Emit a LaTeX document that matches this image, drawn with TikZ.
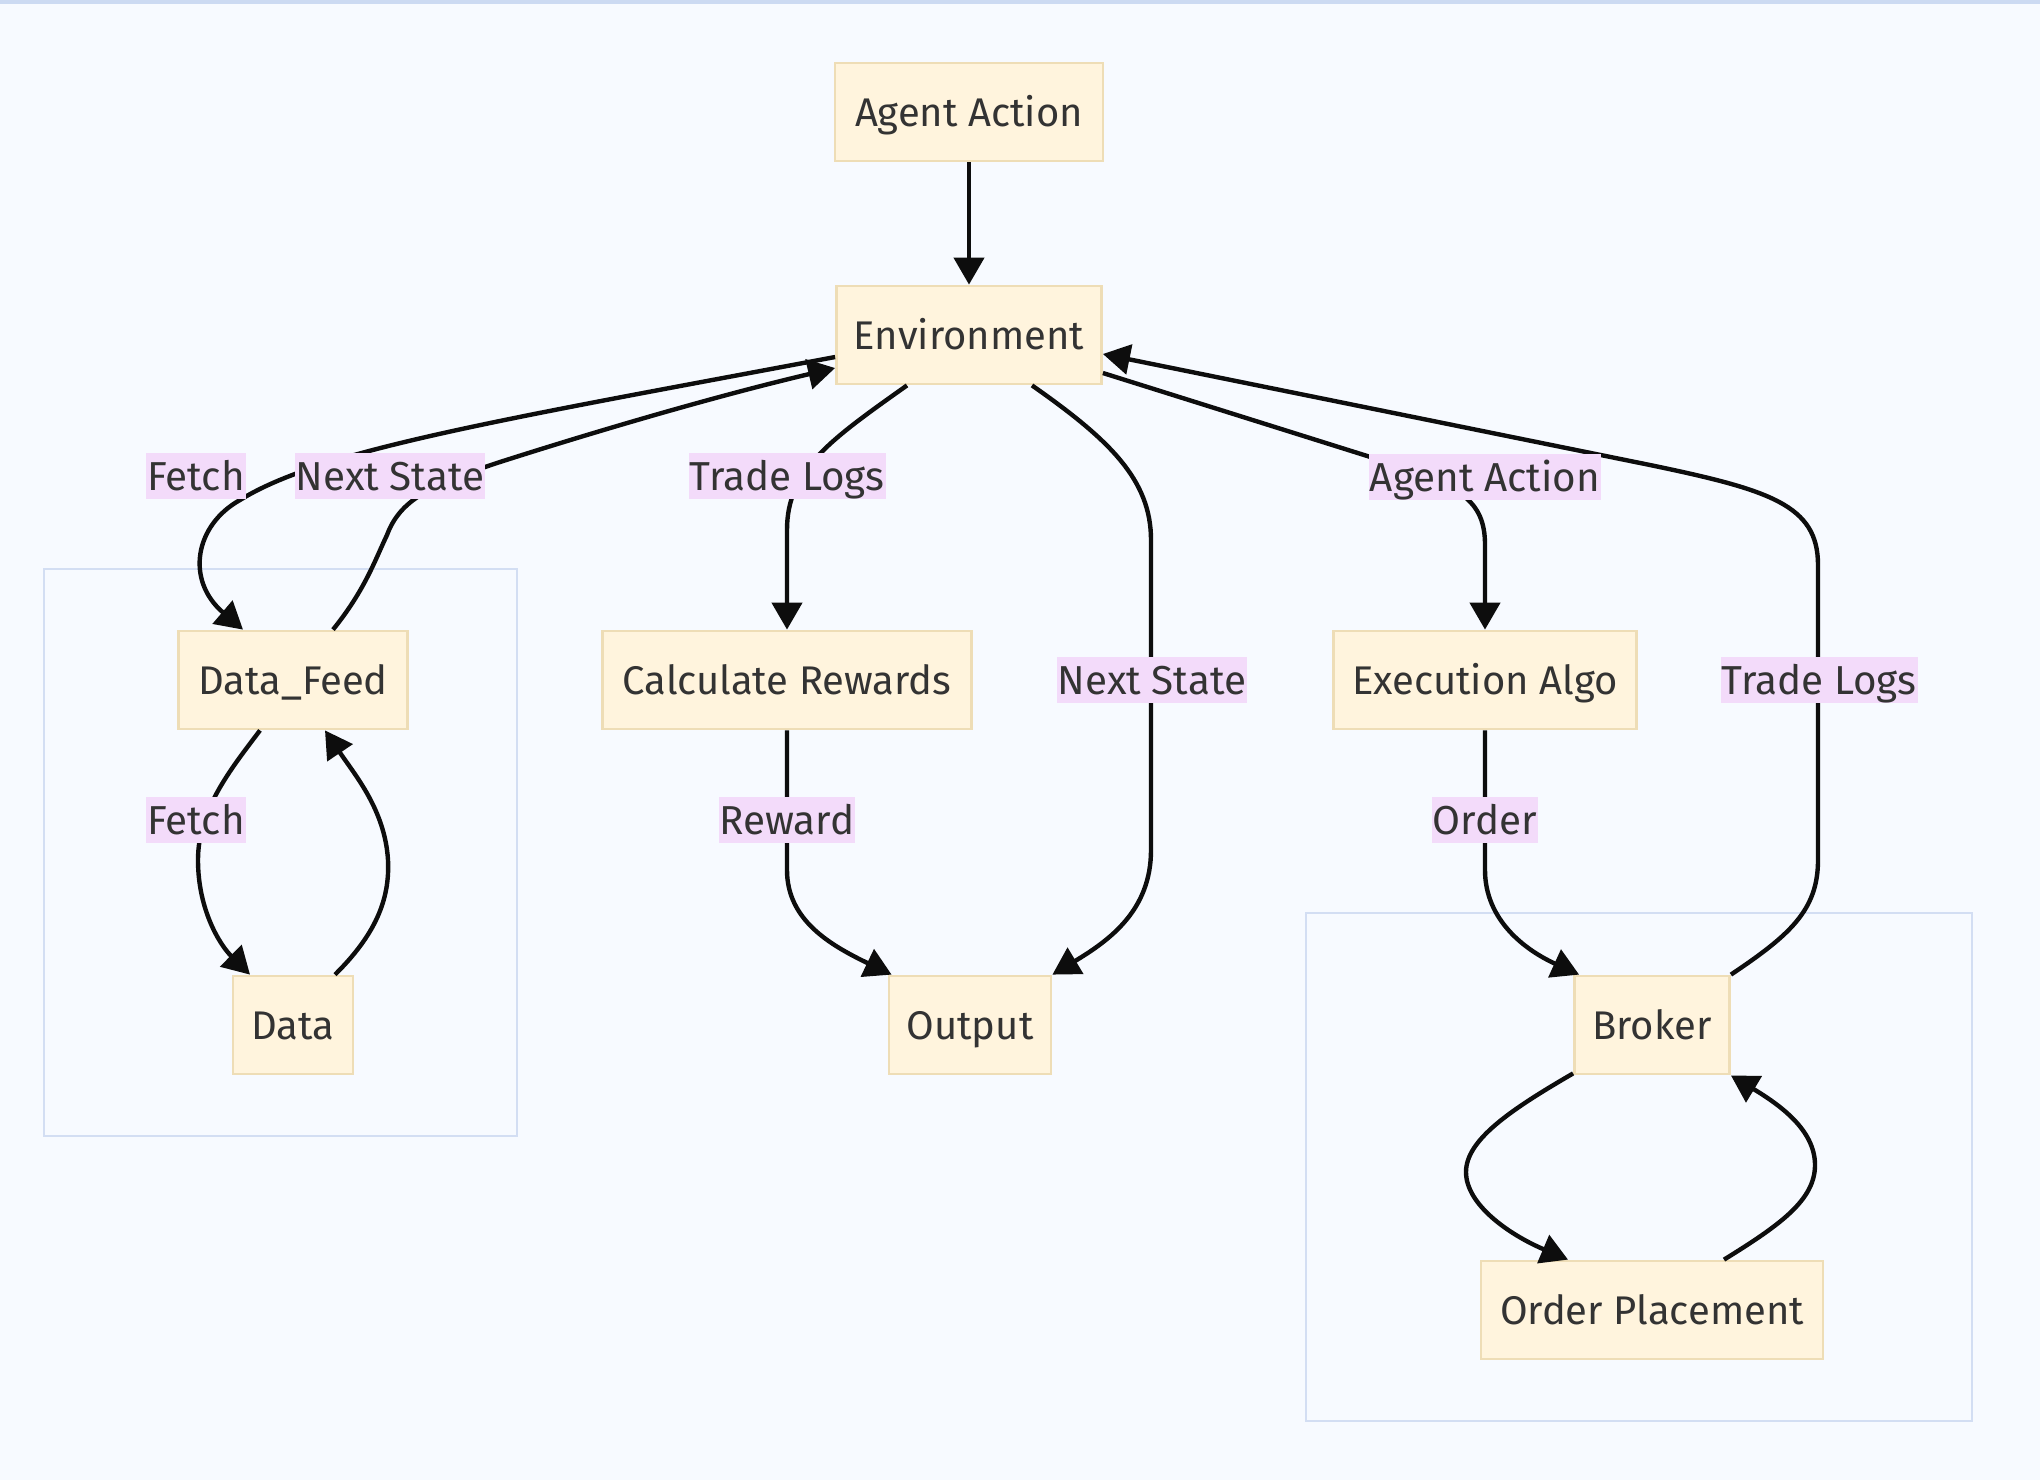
\documentclass[tikz,border=0pt]{standalone}
\usepackage{fontspec}
\setmainfont{Fira Sans}
\usetikzlibrary{arrows.meta,calc}
\definecolor{bgc}{HTML}{F7FAFF}
\definecolor{topline}{HTML}{CCDAF2}
\definecolor{framec}{HTML}{D3DEF3}
\definecolor{nodefill}{HTML}{FFF4DD}
\definecolor{nodeedge}{HTML}{EEDDB6}
\definecolor{lblfill}{HTML}{F3DBFA}
\definecolor{txt}{HTML}{333333}
\definecolor{edgec}{HTML}{0D0D0D}
\begin{document}
\begin{tikzpicture}[x=0.5pt,y=-0.5pt,
  box/.style={rectangle, draw=nodeedge, fill=nodefill, line width=1.4pt, text=txt,
    font=\fontsize{20}{24}\selectfont, inner sep=0pt, minimum height=49pt,
    text height=14pt, text depth=0pt},
  lbl/.style={rectangle, fill=lblfill, text=txt, font=\fontsize{20.2}{24}\selectfont,
    inner xsep=0.5pt, inner ysep=0pt, minimum height=23pt, text height=14pt, text depth=0pt},
  conn/.style={draw=edgec, line width=2.2pt, -{Triangle[length=13.5pt,width=15pt]}},
  cluster/.style={draw=framec, fill=bgc, line width=1.4pt}
]
\fill[bgc] (0,0) rectangle (2040,1480);
\useasboundingbox (0,0) rectangle (2040,1480);
\fill[topline] (0,0) rectangle (2040,4);

% clusters
\draw[cluster] (44,569) rectangle (517,1136);
\draw[cluster] (1306,913) rectangle (1972,1421);

% nodes
\node[box, minimum width=134pt] (aa) at (969,112) {Agent Action};
\node[box, minimum width=132.5pt] (env) at (969,335) {Environment};
\node[box, minimum width=114.5pt] (df) at (293,680) {Data\_Feed};
\node[box, minimum width=184.5pt] (cr) at (787,680) {Calculate Rewards};
\node[box, minimum width=151.5pt] (ea) at (1485,680) {Execution Algo};
\node[box, minimum width=60pt] (data) at (293,1025) {Data};
\node[box, minimum width=81pt] (out) at (970,1025) {Output};
\node[box, minimum width=77.5pt] (br) at (1652,1025) {Broker};
\node[box, minimum width=171pt] (op) at (1652,1310) {Order Placement};

% edges
\draw[conn] (aa) -- (env);
\draw[conn] ([yshift=-11pt]env.west) .. controls (500,420) and (320,450) .. (240,500)
  .. controls (195,525) and (185,580) .. ([xshift=-25pt]df.north);
\draw[conn] ([xshift=20pt]df.north) .. controls (365,590) and (375,560) .. (387,535)
  .. controls (400,500) and (430,485) .. (500,462)
  .. controls (600,430) and (720,395) .. ([yshift=-16.5pt]env.west);
\draw[conn] ([xshift=-31pt]env.south) .. controls (830,440) and (787,470) .. (787,530) -- (cr);
\draw[conn] ([xshift=31.5pt]env.south) .. controls (1110,440) and (1151,480) .. (1151,540)
  -- (1151,850) .. controls (1151,910) and (1110,940) .. (out.north east);
\draw[conn] ([yshift=-19pt]env.east) -- (1380,460) .. controls (1460,485) and (1485,500) .. (1485,545) -- (ea);
\draw[conn] (br.north east) .. controls (1790,935) and (1818,910) .. (1818,860)
  -- (1818,565) .. controls (1818,505) and (1770,490) .. (1650,465) -- ([yshift=-9.5pt]env.east);
\draw[conn] ([xshift=-16.5pt]df.south) .. controls (230,770) and (198,810) .. (198,860)
  .. controls (198,910) and (220,945) .. ([xshift=-21.5pt]data.north);
\draw[conn] ([xshift=21pt]data.north) .. controls (375,935) and (390,900) .. (388,860)
  .. controls (385,810) and (355,775) .. ([xshift=16pt]df.south);
\draw[conn] (cr) -- (787,870) .. controls (787,920) and (830,945) .. ([xshift=2pt]out.north west);
\draw[conn] (ea) -- (1485,870) .. controls (1485,920) and (1525,950) .. ([xshift=3pt]br.north west);
\draw[conn] ([yshift=1pt]br.south west) .. controls (1510,1110) and (1466,1140) .. (1466,1172)
  .. controls (1466,1205) and (1510,1235) .. ([xshift=-42pt]op.north);
\draw[conn] ([xshift=36pt]op.north) .. controls (1780,1225) and (1815,1200) .. (1815,1165)
  .. controls (1815,1130) and (1780,1105) .. (br.south east);

% labels
\node[lbl] (l1) at (196,476) {Fetch};
\node[lbl] (l2) at (390,476) {Next State};
\node[lbl] (l3) at (787,476) {Trade Logs};
\node[lbl] (l4) at (1152,680) {Next State};
\node[lbl] (l5) at (1485,477) {Agent Action};
\node[lbl] (l6) at (1819,680) {Trade Logs};
\node[lbl] (l7) at (196,820) {Fetch};
\node[lbl] (l8) at (787,820) {Reward};
\node[lbl] (l9) at (1485,820) {Order};
\end{tikzpicture}
\end{document}
